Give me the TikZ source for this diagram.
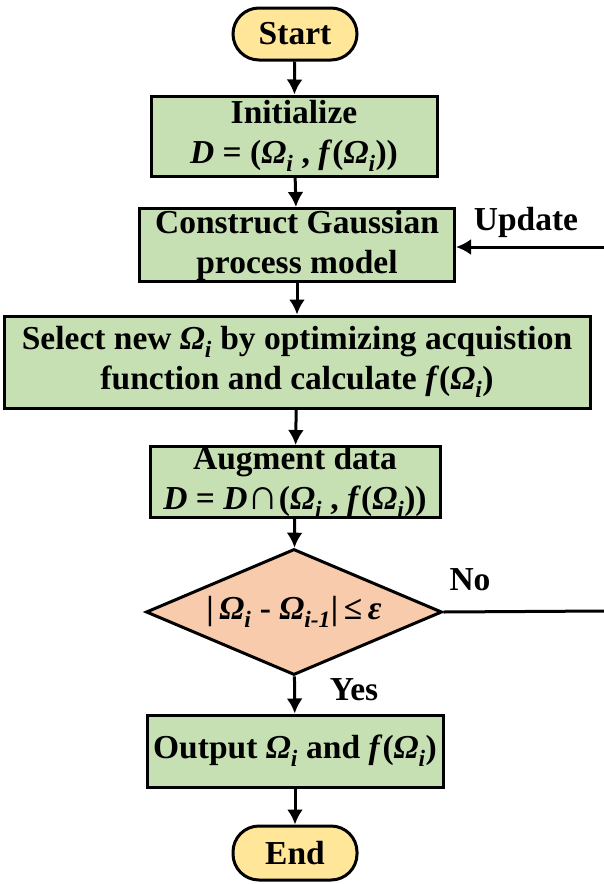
\documentclass[tikz,border=0pt]{standalone}
\usepackage{fontspec}
\setmainfont{Liberation Serif}
\usetikzlibrary{arrows.meta,shapes.geometric}

\definecolor{termfill}{RGB}{255,230,153}
\definecolor{procfill}{RGB}{198,224,180}
\definecolor{decfill}{RGB}{248,203,173}

\newcommand{\Om}[1]{\textit{Ω\textsubscript{#1}}}

\begin{document}
\begin{tikzpicture}%
        [x=1pt, y=-1pt,
        every node/.style={font=\bfseries\fontsize{33.5}{40}\selectfont},
        term/.style={draw, line width=3pt, fill=termfill, rounded corners=26pt, minimum width=124pt, minimum height=52pt},
        proc/.style={draw, line width=3pt, fill=procfill, align=center, inner sep=0pt},
        dec/.style={draw, line width=3pt, fill=decfill, diamond, aspect=2.35, inner sep=0pt, minimum width=296pt, minimum height=126pt},
        conn/.style={line width=3pt},
        arr/.style={line width=3pt,-{Latex[length=15pt,width=16pt]}}]

    \useasboundingbox (0,0) rectangle (604,884);

    %% Drawing the boxes
    \node[term] (start) at (295,34) {Start};
    \node[proc, minimum width=286pt, minimum height=80pt] (init) at (294,136)
        {Initialize\\ \textit{D} = (\Om{i} , \textit{f}(\Om{i}))};
    \node[proc, minimum width=315pt, minimum height=73pt] (gp) at (297,245)
        {Construct Gaussian\\ process model};
    \node[proc, minimum width=586pt, minimum height=92pt] (sel) at (297,362)
        {Select new \Om{i} by optimizing acquistion\\ function and calculate \textit{f}(\Om{i})};
    \node[proc, minimum width=290pt, minimum height=70pt] (aug) at (295,482)
        {Augment data\\ \textit{D} = \textit{D}\scalebox{1.3}{∩}(\Om{i} , \textit{f}(\Om{i}))};
    \node[dec] (conv) at (294,612) {|\,\Om{i} - \Om{i-1}|\,≤\,\textit{ε}};
    \node[proc, minimum width=296pt, minimum height=72pt] (out) at (295,751)
        {Output \Om{i} and \textit{f}(\Om{i})};
    \node[term, minimum height=54pt] (end) at (295,853) {End};

    %% Labels
    \node (no) at (470,580) {No};
    \node (yes) at (354,690) {Yes};
    \node (upd) at (526,222) {Update};

    %% Drawing the connectors
    \draw[arr] (start) -- (init);
    \draw[arr] (init) -- (gp);
    \draw[arr] (gp) -- (sel);
    \draw[arr] (sel) -- (aug);
    \draw[arr] (aug) -- (conv);
    \draw[arr] (conv) -- (out);
    \draw[arr] (out) -- (end);
    %% Feedback loop
    \coordinate (noend) at (604,611);
    \coordinate (upend) at (604,247);
    \draw[conn] (conv.east) -- (noend);
    \draw[arr] (upend) -- (upend -| gp.east);
\end{tikzpicture}
\end{document}
